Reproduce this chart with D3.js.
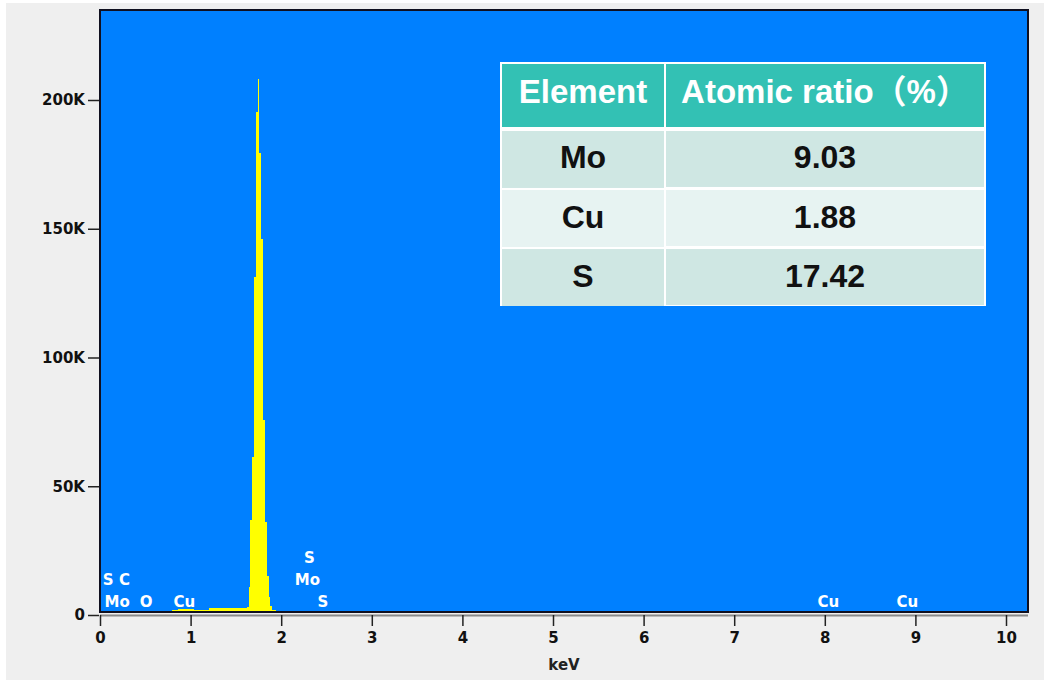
<!DOCTYPE html>
<html>
<head>
<meta charset="utf-8">
<script src="https://cdn.jsdelivr.net/npm/d3@7"></script>
<style>
body { margin: 0; background: #fff; }
svg text { font-family: "DejaVu Sans", Verdana, sans-serif; font-weight: bold; }
</style>
</head>
<body>
<svg id="chart"></svg>
<script>
// EDS spectrum: bin start energy (keV) and counts (K)
var energies = [0.00, 0.40, 0.48, 0.56, 0.66, 0.80, 0.86, 1.04, 1.20, 1.36, 1.62, 1.64, 1.66, 1.68, 1.70, 1.72, 1.74, 1.76, 1.78, 1.80, 1.82, 1.84, 1.86, 1.88, 1.90, 1.94, 2.26, 2.38, 5.45];
var counts   = [0.3,  0.8,  1.6,  1.2,  1.5,  1.9,  2.4,  2.1,  2.6,  2.9,  3.1,  10.9, 36.9, 61.4, 131.3, 195.3, 208.2, 179.4, 146.0, 75.7, 36.0, 15.0, 7.0, 3.5, 2.0, 1.3, 1.7, 1.3, 0.6];
var energyEnd = 10.25;

var xTicks = [0, 1, 2, 3, 4, 5, 6, 7, 8, 9, 10];
var yTicks = [0, 50, 100, 150, 200];

// peak markers
var peakLabels   = ['S', 'C', 'Mo', 'O', 'Cu', 'S', 'Mo', 'S', 'Cu', 'Cu'];
var peakEnergies = [0.09, 0.27, 0.19, 0.51, 0.93, 2.31, 2.29, 2.46, 8.04, 8.91];
var peakLevels   = [1, 1, 0, 0, 0, 2, 1, 0, 0, 0];

// composition table
var tableHeader = ['Element', 'Atomic ratio（%）'];
var elements = ['Mo', 'Cu', 'S'];
var ratios = ['9.03', '1.88', '17.42'];

var svg = d3.select('#chart').attr('width', 1049).attr('height', 680);
svg.append('rect').attr('x', 6).attr('y', 3).attr('width', 1038).attr('height', 677).attr('fill', '#efefef');

var pl = 100, pt = 10, pr = 1028, pb = 612;
var x = d3.scaleLinear().domain([0, 10]).range([100, 1006]);
var y = d3.scaleLinear().domain([0, 200]).range([615, 100]);

svg.append('defs').append('clipPath').attr('id', 'plotclip')
    .append('rect').attr('x', pl).attr('y', pt).attr('width', pr - pl).attr('height', pb - pt);

svg.append('rect').attr('x', pl).attr('y', pt).attr('width', pr - pl).attr('height', pb - pt).attr('fill', '#0080ff');

var spec = energies.map(function(e, i) { return {e: e, c: counts[i]}; });
spec.push({e: energyEnd, c: counts[counts.length - 1]});

var area = d3.area().curve(d3.curveStepAfter)
    .x(function(d) { return x(d.e); })
    .y0(y(0))
    .y1(function(d) { return y(d.c); });

svg.append('path').datum(spec).attr('d', area).attr('fill', '#ffff00')
    .attr('shape-rendering', 'crispEdges').attr('clip-path', 'url(#plotclip)');

// peak labels
svg.append('g').selectAll('text').data(peakLabels).enter().append('text')
    .attr('x', function(d, i) { return x(peakEnergies[i]); })
    .attr('y', function(d, i) { return 607 - peakLevels[i] * 22; })
    .attr('text-anchor', 'middle')
    .attr('fill', '#ffffff')
    .style('font-size', '15px')
    .text(function(d) { return d; });

// frame
svg.append('rect').attr('x', pl).attr('y', pt).attr('width', pr - pl).attr('height', pb - pt)
    .attr('fill', 'none').attr('stroke', '#101020').attr('stroke-width', 2);

// x axis
svg.append('line').attr('x1', pl).attr('x2', pr).attr('y1', 615.5).attr('y2', 615.5).attr('stroke', '#8a8a8a').attr('stroke-width', 2);
var xAxis = svg.append('g').attr('transform', 'translate(0,615)')
    .call(d3.axisBottom(x).tickValues(xTicks).tickSize(11).tickPadding(6).tickFormat(d3.format('d')));
xAxis.select('.domain').remove();
xAxis.selectAll('line').attr('stroke', '#222').attr('stroke-width', 1.5);
xAxis.selectAll('text').attr('fill', '#111').style('font-size', '15px').style('font-family', '"DejaVu Sans", Verdana, sans-serif').style('font-weight', 'bold');

svg.append('text').attr('x', (pl + pr) / 2).attr('y', 670).attr('text-anchor', 'middle')
    .attr('fill', '#222').style('font-size', '15px').text('keV');

// y axis
var yAxis = svg.append('g').attr('transform', 'translate(99,0)')
    .call(d3.axisLeft(y).tickValues(yTicks).tickSize(11).tickPadding(3)
        .tickFormat(function(d) { return d === 0 ? '0' : d + 'K'; }));
yAxis.select('.domain').remove();
yAxis.selectAll('line').attr('stroke', '#222').attr('stroke-width', 1.5);
yAxis.selectAll('text').attr('fill', '#111').style('font-size', '15px').style('font-family', '"DejaVu Sans", Verdana, sans-serif').style('font-weight', 'bold');

// table
var tl = 500, tsplit = 665, tr = 986, ttop = 62, thead = 127, tbottom = 306;
var tfont = '"Liberation Sans", Arial, "Noto Sans CJK SC", sans-serif';
svg.append('rect').attr('x', tl).attr('y', ttop).attr('width', tr - tl).attr('height', tbottom - ttop).attr('fill', '#ffffff');

var colX = [tl + 2, tsplit + 1];
var colW = [tsplit - tl - 3, tr - tsplit - 3];
svg.append('g').selectAll('rect').data(tableHeader).enter().append('rect')
    .attr('x', function(d, i) { return colX[i]; }).attr('y', ttop + 2)
    .attr('width', function(d, i) { return colW[i]; }).attr('height', thead - ttop - 2)
    .attr('fill', '#33c1b4');
svg.append('g').selectAll('text').data(tableHeader).enter().append('text')
    .attr('x', function(d, i) { return colX[i] + colW[i] / 2; })
    .attr('y', (ttop + thead) / 2 + 8)
    .attr('text-anchor', 'middle').attr('fill', '#ffffff')
    .style('font-family', tfont).style('font-size', '33px')
    .text(function(d) { return d; });

var rowY = d3.scaleBand().domain(elements).range([thead + 4, tbottom]).paddingInner(0.035);
var rowFill = ['#cfe7e3', '#e7f3f2', '#cfe7e3'];
var rows = svg.append('g').selectAll('g').data(elements).enter().append('g');
rows.append('rect').attr('x', colX[0]).attr('y', function(d) { return rowY(d); })
    .attr('width', colW[0]).attr('height', rowY.bandwidth())
    .attr('fill', function(d, i) { return rowFill[i]; });
rows.append('rect').attr('x', colX[1]).attr('y', function(d) { return rowY(d); })
    .attr('width', colW[1]).attr('height', rowY.bandwidth() - 1)
    .attr('fill', function(d, i) { return rowFill[i]; });
rows.append('text').attr('x', colX[0] + colW[0] / 2)
    .attr('y', function(d) { return rowY(d) + rowY.bandwidth() / 2 + 9; })
    .attr('text-anchor', 'middle').attr('fill', '#111')
    .style('font-family', tfont).style('font-size', '32px')
    .text(function(d) { return d; });
rows.append('text').attr('x', colX[1] + colW[1] / 2)
    .attr('y', function(d) { return rowY(d) + rowY.bandwidth() / 2 + 9; })
    .attr('text-anchor', 'middle').attr('fill', '#111')
    .style('font-family', tfont).style('font-size', '32px')
    .text(function(d, i) { return ratios[i]; });
</script>
</body>
</html>
